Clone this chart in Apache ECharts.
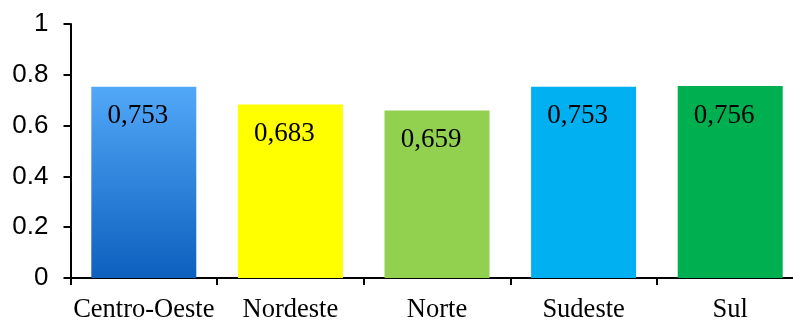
<!DOCTYPE html>
<html>
<head>
<meta charset="utf-8">
<script src="https://cdn.jsdelivr.net/npm/echarts@6/dist/echarts.min.js"></script>
<style>
html,body{margin:0;padding:0;background:#fff;overflow:hidden;}
#wrap{width:793px;height:324px;overflow:hidden;}
#chart{width:820px;height:324px;}
</style>
</head>
<body>
<div id="wrap"><div id="chart"></div></div>
<script>
const categories = ['Centro-Oeste', 'Nordeste', 'Norte', 'Sudeste', 'Sul'];
const values = [0.753, 0.683, 0.659, 0.753, 0.756];
const valueLabels = ['0,753', '0,683', '0,659', '0,753', '0,756'];
const yTicks = [0, 0.2, 0.4, 0.6, 0.8, 1];

const colors = [
  new echarts.graphic.LinearGradient(0, 0, 0, 1, [
    {offset: 0, color: '#52A8F8'},
    {offset: 1, color: '#0D60BE'}
  ]),
  '#FFFF00', '#92D050', '#00B0F0', '#00B050'
];

const chart = echarts.init(document.getElementById('chart'), null, {renderer: 'canvas'});
chart.setOption({
  animation: false,
  backgroundColor: '#ffffff',
  grid: {left: 70.5, top: 24, width: 733, height: 258, containLabel: false},
  xAxis: {
    type: 'category',
    data: categories,
    axisLine: {lineStyle: {color: '#000', width: 2}},
    axisTick: {show: true, length: 7, interval: 0, lineStyle: {color: '#000', width: 2}},
    axisLabel: {
      interval: 0,
      color: '#000', fontFamily: 'Liberation Serif', fontSize: 26.5, margin: 19
    }
  },
  yAxis: {
    type: 'value',
    min: yTicks[0], max: yTicks[yTicks.length - 1], interval: 0.2,
    splitLine: {show: false},
    axisLine: {show: true, lineStyle: {color: '#000', width: 2}},
    axisTick: {show: true, length: 7, lineStyle: {color: '#000', width: 2}},
    axisLabel: {
      color: '#000', fontFamily: 'Liberation Sans', fontSize: 26, margin: 22,
      formatter: v => String(Math.round(v * 10) / 10)
    }
  },
  series: [{
    type: 'bar',
    barWidth: 105,
    data: values.map((v, i) => ({
      value: v,
      itemStyle: {color: colors[i]},
      label: {formatter: valueLabels[i]}
    })),
    label: {
      show: true,
      position: 'insideTop',
      distance: 16,
      offset: [-6, 0],
      color: '#000',
      fontFamily: 'Liberation Serif',
      fontSize: 27
    }
  }]
});
</script>
</body>
</html>
